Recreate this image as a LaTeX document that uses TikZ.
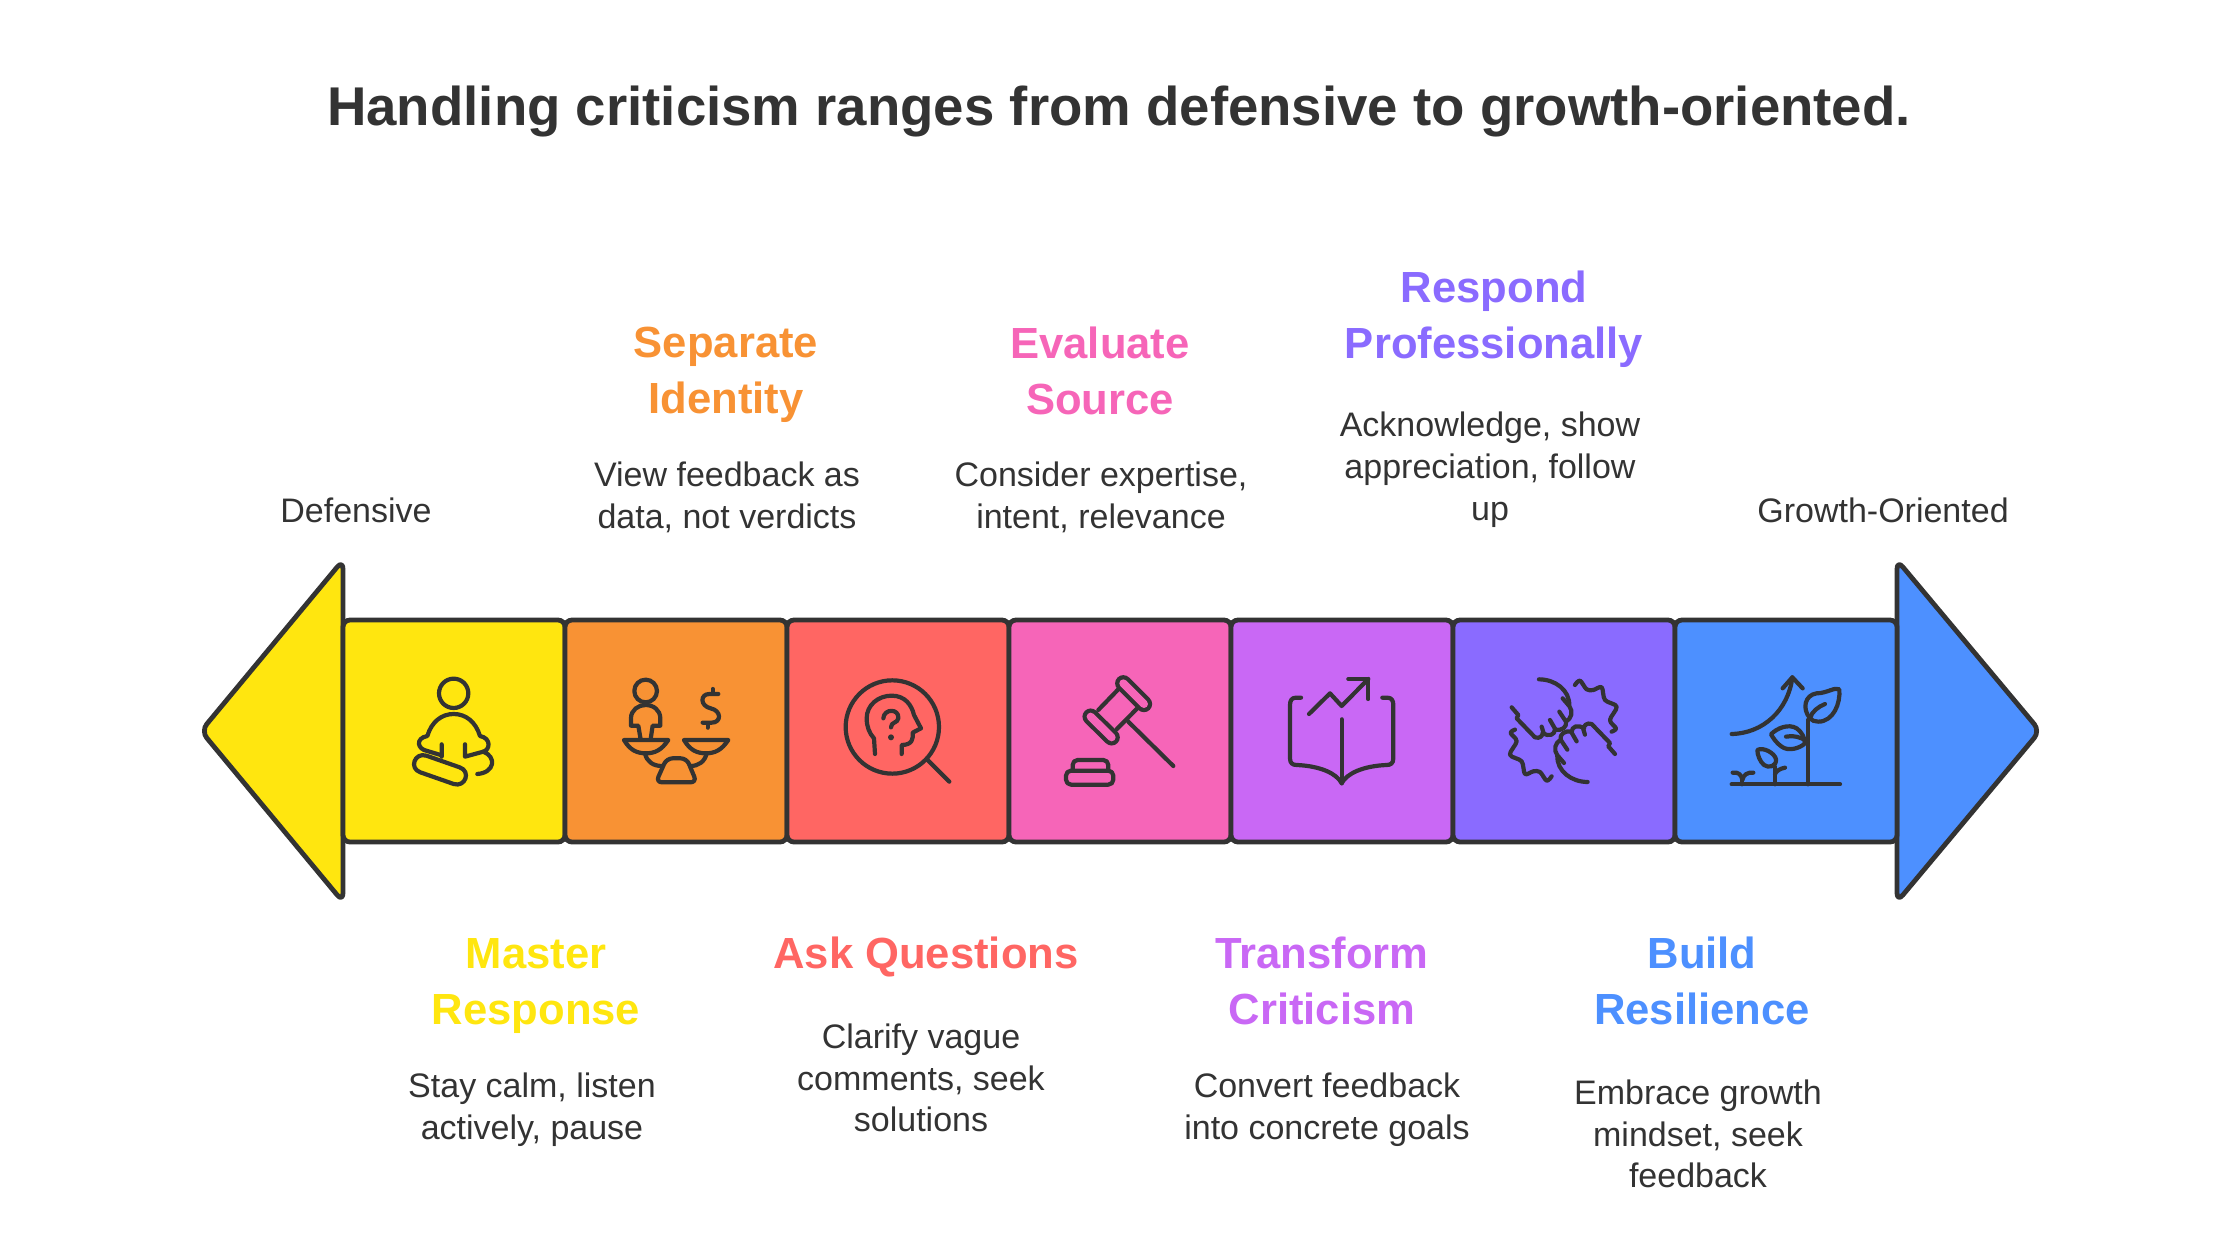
\documentclass[tikz,border=0pt]{standalone}
\usepackage{fontspec}
\setmainfont{Liberation Sans}
\usepackage{xcolor}
\usetikzlibrary{positioning}
\definecolor{ink}{RGB}{51,51,51}
\definecolor{mastercol}{RGB}{255,230,15}
\definecolor{identitycol}{RGB}{248,146,52}
\definecolor{questioncol}{RGB}{255,102,99}
\definecolor{sourcecol}{RGB}{246,101,184}
\definecolor{transformcol}{RGB}{201,104,245}
\definecolor{respondcol}{RGB}{138,107,255}
\definecolor{resilcol}{RGB}{77,144,255}
\tikzset{
titletext/.style={font=\fontsize{54.6}{66}\selectfont\bfseries,text=ink,inner sep=0pt},
headtext/.style={font=\fontsize{43.6}{55.7}\selectfont\bfseries,align=center,inner sep=0pt},
bodytext/.style={font=\fontsize{34}{41.8}\selectfont,text=ink,align=center,inner sep=0pt},
stepbox/.style={draw=ink,line width=4.8pt,rounded corners=7pt,minimum width=222pt,minimum height=222pt,inner sep=0pt,outer sep=0pt},
arrowend/.style={draw=ink,line width=4.8pt,rounded corners=9pt,line join=round},
iconline/.style={draw=ink,line width=4.2pt,line cap=round,line join=round},
zoomed/.style={x=0.3333pt,y=-0.3333pt}
}
\begin{document}
\begin{tikzpicture}[x=1pt,y=-1pt]
\useasboundingbox (0,0) rectangle (2240,1260);
\node[titletext] (title) at (1119,112) {Handling criticism ranges from defensive to growth-oriented.};
% arrow ends
\draw[arrowend,fill=mastercol] (343,560) -- (201,731) -- (343,902) -- cycle;
\draw[arrowend,fill=resilcol] (1897,560) -- (2040,731) -- (1897,902) -- cycle;
% the bar
\node[stepbox,fill=mastercol] (masterbox) at (454,731) {};
\node[stepbox,fill=identitycol,right=0pt of masterbox] (identitybox) {};
\node[stepbox,fill=questioncol,right=0pt of identitybox] (questionbox) {};
\node[stepbox,fill=sourcecol,right=0pt of questionbox] (sourcebox) {};
\node[stepbox,fill=transformcol,right=0pt of sourcebox] (transformbox) {};
\node[stepbox,fill=respondcol,right=0pt of transformbox] (respondbox) {};
\node[stepbox,fill=resilcol,right=0pt of respondbox] (resilbox) {};
% end labels
\node[bodytext] (defensive) at (356,510) {Defensive};
\node[bodytext] (growth) at (1883,510) {Growth-Oriented};
% upper labels
\node[headtext,text=identitycol] (identityhead) at (726,375) {Separate\\Identity};
\node[bodytext] (identitytext) at (727,497) {View feedback as\\data, not verdicts};
\node[headtext,text=sourcecol] (sourcehead) at (1100,371) {Evaluate\\Source};
\node[bodytext] (sourcetext) at (1101,497) {Consider expertise,\\intent, relevance};
\node[headtext,text=respondcol] (respondhead) at (1494,319) {Respond\\Professionally};
\node[bodytext] (respondtext) at (1490,470) {Acknowledge, show\\appreciation, follow\\up};
% lower labels
\node[headtext,text=mastercol] (masterhead) at (536,986) {Master\\Response};
\node[bodytext] (mastertext) at (532,1110) {Stay calm, listen\\actively, pause};
\node[headtext,text=questioncol] (questionhead) at (926,957) {Ask Questions};
\node[bodytext] (questiontext) at (921,1078) {Clarify vague\\comments, seek\\solutions};
\node[headtext,text=transformcol] (transformhead) at (1322,981) {Transform\\Criticism};
\node[bodytext] (transformtext) at (1327,1110) {Convert feedback\\into concrete goals};
\node[headtext,text=resilcol] (resilhead) at (1702,981) {Build\\Resilience};
\node[bodytext] (resiltext) at (1698,1134) {Embrace growth\\mindset, seek\\feedback};
% meditating figure
\begin{scope}[shift={(340,610)},zoomed]
\draw[iconline] (341,250) circle (44);
\draw[iconline] (305,403) -- (305,440) (375,403) -- (375,440) -- (430,425);
\draw[iconline] (305,436) -- (262,423) .. controls (232,418) and (225,385) .. (262,378)
  .. controls (275,335) and (305,312) .. (341,312) .. controls (377,312) and (407,335) .. (420,378)
  .. controls (455,385) and (450,420) .. (430,425) .. controls (470,440) and (465,488) .. (412,492);
\draw[iconline] (259,437) -- (359,472) .. controls (394,484) and (376,533) .. (341,522) -- (241,487) .. controls (206,475) and (224,426) .. (259,437) -- cycle;
\end{scope}
% scales
\begin{scope}[shift={(340,610)},zoomed]
\draw[iconline] (917,243) circle (34);
\draw[iconline] (902,388) -- (895,347) -- (873,347) -- (873,325) .. controls (873,300) and (895,285) .. (917,285) .. controls (940,285) and (961,300) .. (961,325) -- (961,347) -- (938,347) -- (932,388);
\draw[iconline] (852,390) -- (985,390) .. controls (965,420) and (945,430) .. (918,430) .. controls (890,430) and (870,420) .. (852,390) -- cycle;
\draw[iconline] (1032,390) -- (1165,390) .. controls (1145,420) and (1125,430) .. (1098,430) .. controls (1070,430) and (1050,420) .. (1032,390) -- cycle;
\draw[iconline] (915,430) .. controls (920,455) and (940,468) .. (965,468);
\draw[iconline] (1100,430) .. controls (1095,455) and (1075,468) .. (1052,468);
\draw[iconline,rounded corners=6pt] (948,517) -- (980,445) -- (1040,445) -- (1070,517) -- cycle;
\draw[iconline] (1135,252) -- (1108,252) .. controls (1080,252) and (1080,288) .. (1112,295) .. controls (1145,302) and (1145,338) .. (1115,338) -- (1088,338);
\draw[iconline] (1118,237) -- (1118,250) (1103,340) -- (1103,353);
\end{scope}
% head under a magnifier
\begin{scope}[shift={(790,610)},zoomed]
\draw[iconline] (307,351) circle (140);
\draw[iconline] (413,450) -- (478,515);
\draw[iconline] (255,432) -- (252,385) .. controls (238,370) and (230,350) .. (230,325) .. controls (230,285) and (265,257) .. (305,257) .. controls (345,257) and (365,285) .. (372,315) -- (393,355) -- (368,368) .. controls (370,385) and (368,405) .. (335,405) -- (335,432);
\draw[iconline] (280,325) .. controls (282,295) and (328,295) .. (325,325) .. controls (323,340) and (303,335) .. (303,352);
\fill[ink] (303,382) circle (9);
\end{scope}
% gavel
\begin{scope}[shift={(790,610)},zoomed]
\draw[iconline] (985,238) -- (925,300) (1042,295) -- (980,358);
\draw[iconline] (1015,335) -- (1150,468);
\draw[iconline,double=sourcecol,double distance=8pt] (1000,220) -- (1062,282);
\draw[iconline,double=sourcecol,double distance=8pt] (902,320) -- (965,382);
\draw[iconline,rounded corners=5pt] (828,482) rectangle (970,524);
\draw[iconline,rounded corners=5pt] (848,482) -- (848,450) -- (955,450) -- (955,482);
\end{scope}
% open book with a rising line
\begin{scope}[shift={(1240,610)},zoomed]
\draw[iconline] (183,263) -- (168,263) .. controls (155,263) and (150,272) .. (150,285) -- (150,445) .. controls (150,460) and (158,465) .. (170,465) .. controls (240,468) and (290,490) .. (305,520) .. controls (320,490) and (370,468) .. (440,465) .. controls (452,465) and (460,460) .. (460,445) -- (460,285) .. controls (460,272) and (455,263) .. (442,263) -- (427,263);
\draw[iconline] (305,328) -- (305,520);
\draw[iconline] (207,312) -- (270,250) -- (305,288) -- (385,207);
\draw[iconline] (325,207) -- (385,207) -- (385,267);
\end{scope}
% joined hands
\begin{scope}[shift={(1240,610)},zoomed]
\foreach \turn in {0,180}{
\begin{scope}[rotate around={\turn:(970,362)}]
\draw[iconline] (815,292) -- (835,315) -- (830,325) -- (885,382) .. controls (900,388) and (910,375) .. (908,368) .. controls (925,382) and (945,375) .. (945,358) .. controls (965,365) and (982,350) .. (978,335) .. controls (995,325) and (1000,305) .. (988,288) .. controls (990,240) and (945,208) .. (897,208);
\draw[iconline] (905,350) -- (910,366) (930,330) -- (945,356) (958,305) -- (976,332) (968,265) -- (986,286);
\draw[iconline] plot[smooth,tension=0.55] coordinates {(1005,225) (1020,212) (1040,238) (1060,240) (1085,232) (1095,270) (1130,290) (1110,330) (1128,355) (1115,365)};
\end{scope}
}
\end{scope}
% sprouts and arrow
\begin{scope}[shift={(1660,640)},zoomed]
\draw[iconline] (215,433) -- (540,433);
\draw[iconline] (443,433) -- (443,240);
\draw[iconline] (450,235) .. controls (425,205) and (435,165) .. (470,160) .. controls (500,160) and (525,140) .. (538,148) .. controls (542,190) and (520,245) .. (475,245) .. controls (465,245) and (455,242) .. (450,235) -- cycle;
\draw[iconline] (450,235) .. controls (455,215) and (475,200) .. (495,192);
\draw[iconline] (333,283) .. controls (350,265) and (385,250) .. (410,265) .. controls (425,275) and (435,295) .. (435,310) .. controls (420,325) and (385,335) .. (365,320) .. controls (350,310) and (340,295) .. (333,283) -- cycle;
\draw[iconline] (378,290) .. controls (400,285) and (425,292) .. (438,303);
\draw[iconline] (292,330) .. controls (310,320) and (345,340) .. (348,358) .. controls (350,380) and (325,385) .. (312,375) .. controls (300,365) and (292,345) .. (292,330) -- cycle;
\draw[iconline] (345,433) -- (345,380);
\draw[iconline] (345,402) .. controls (350,392) and (360,386) .. (375,383);
\draw[iconline] (245,433) -- (245,420);
\draw[iconline] (218,398) .. controls (235,395) and (245,405) .. (247,420) .. controls (250,405) and (262,396) .. (280,398);
\draw[iconline] (215,282) .. controls (310,280) and (385,210) .. (397,112);
\draw[iconline] (368,145) -- (397,112) -- (428,145);
\end{scope}
\end{tikzpicture}
\end{document}
